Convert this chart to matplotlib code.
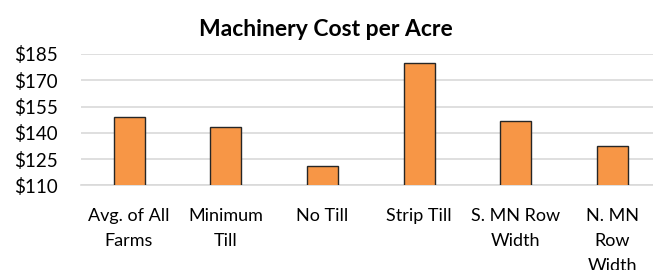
import matplotlib
matplotlib.use("Agg")
import matplotlib.pyplot as plt

categories = ["Avg. of All\nFarms", "Minimum\nTill", "No Till", "Strip Till",
              "S. MN Row\nWidth", "N. MN\nRow\nWidth"]
values = [149.2, 143.5, 121.2, 180.0, 146.7, 132.6]
yticks = [110, 125, 140, 155, 170, 185]
ytick_labels = ["$110", "$125", "$140", "$155", "$170", "$185"]

plt.rcParams['font.family'] = ['Lato', 'DejaVu Sans']

fig = plt.figure(figsize=(6.53, 2.70), dpi=100)
ax = fig.add_axes([80.7/653, 84.7/270, (653-80.7)/653, (185.3-54)/270])

x = list(range(len(categories)))
ax.bar(x, values, width=0.32, color="#F79646", edgecolor="#262626", linewidth=1.0, zorder=3)

ax.set_ylim(110, 185)
ax.set_xlim(-0.5, 5.42)
ax.set_yticks(yticks)
ax.set_yticklabels(ytick_labels, fontsize=13.5)
ax.set_xticks(x)
ax.set_xticklabels(categories, fontsize=13, linespacing=1.7, va="top")
ax.tick_params(axis="both", length=0, colors="#000000")
ax.tick_params(axis="y", pad=16.5)
ax.tick_params(axis="x", pad=16)
ax.grid(axis="y", color="#d9d9d9", linewidth=1.2, zorder=0)
for s in ["top", "right", "left"]:
    ax.spines[s].set_visible(False)
ax.spines["bottom"].set_color("#d9d9d9")
ax.spines["bottom"].set_linewidth(1.2)

fig.text(326/653, 1 - 30/270, "Machinery Cost per Acre", ha="center", va="center",
         fontsize=16.5, fontweight="bold")

fig.savefig("out.png", dpi=100)
